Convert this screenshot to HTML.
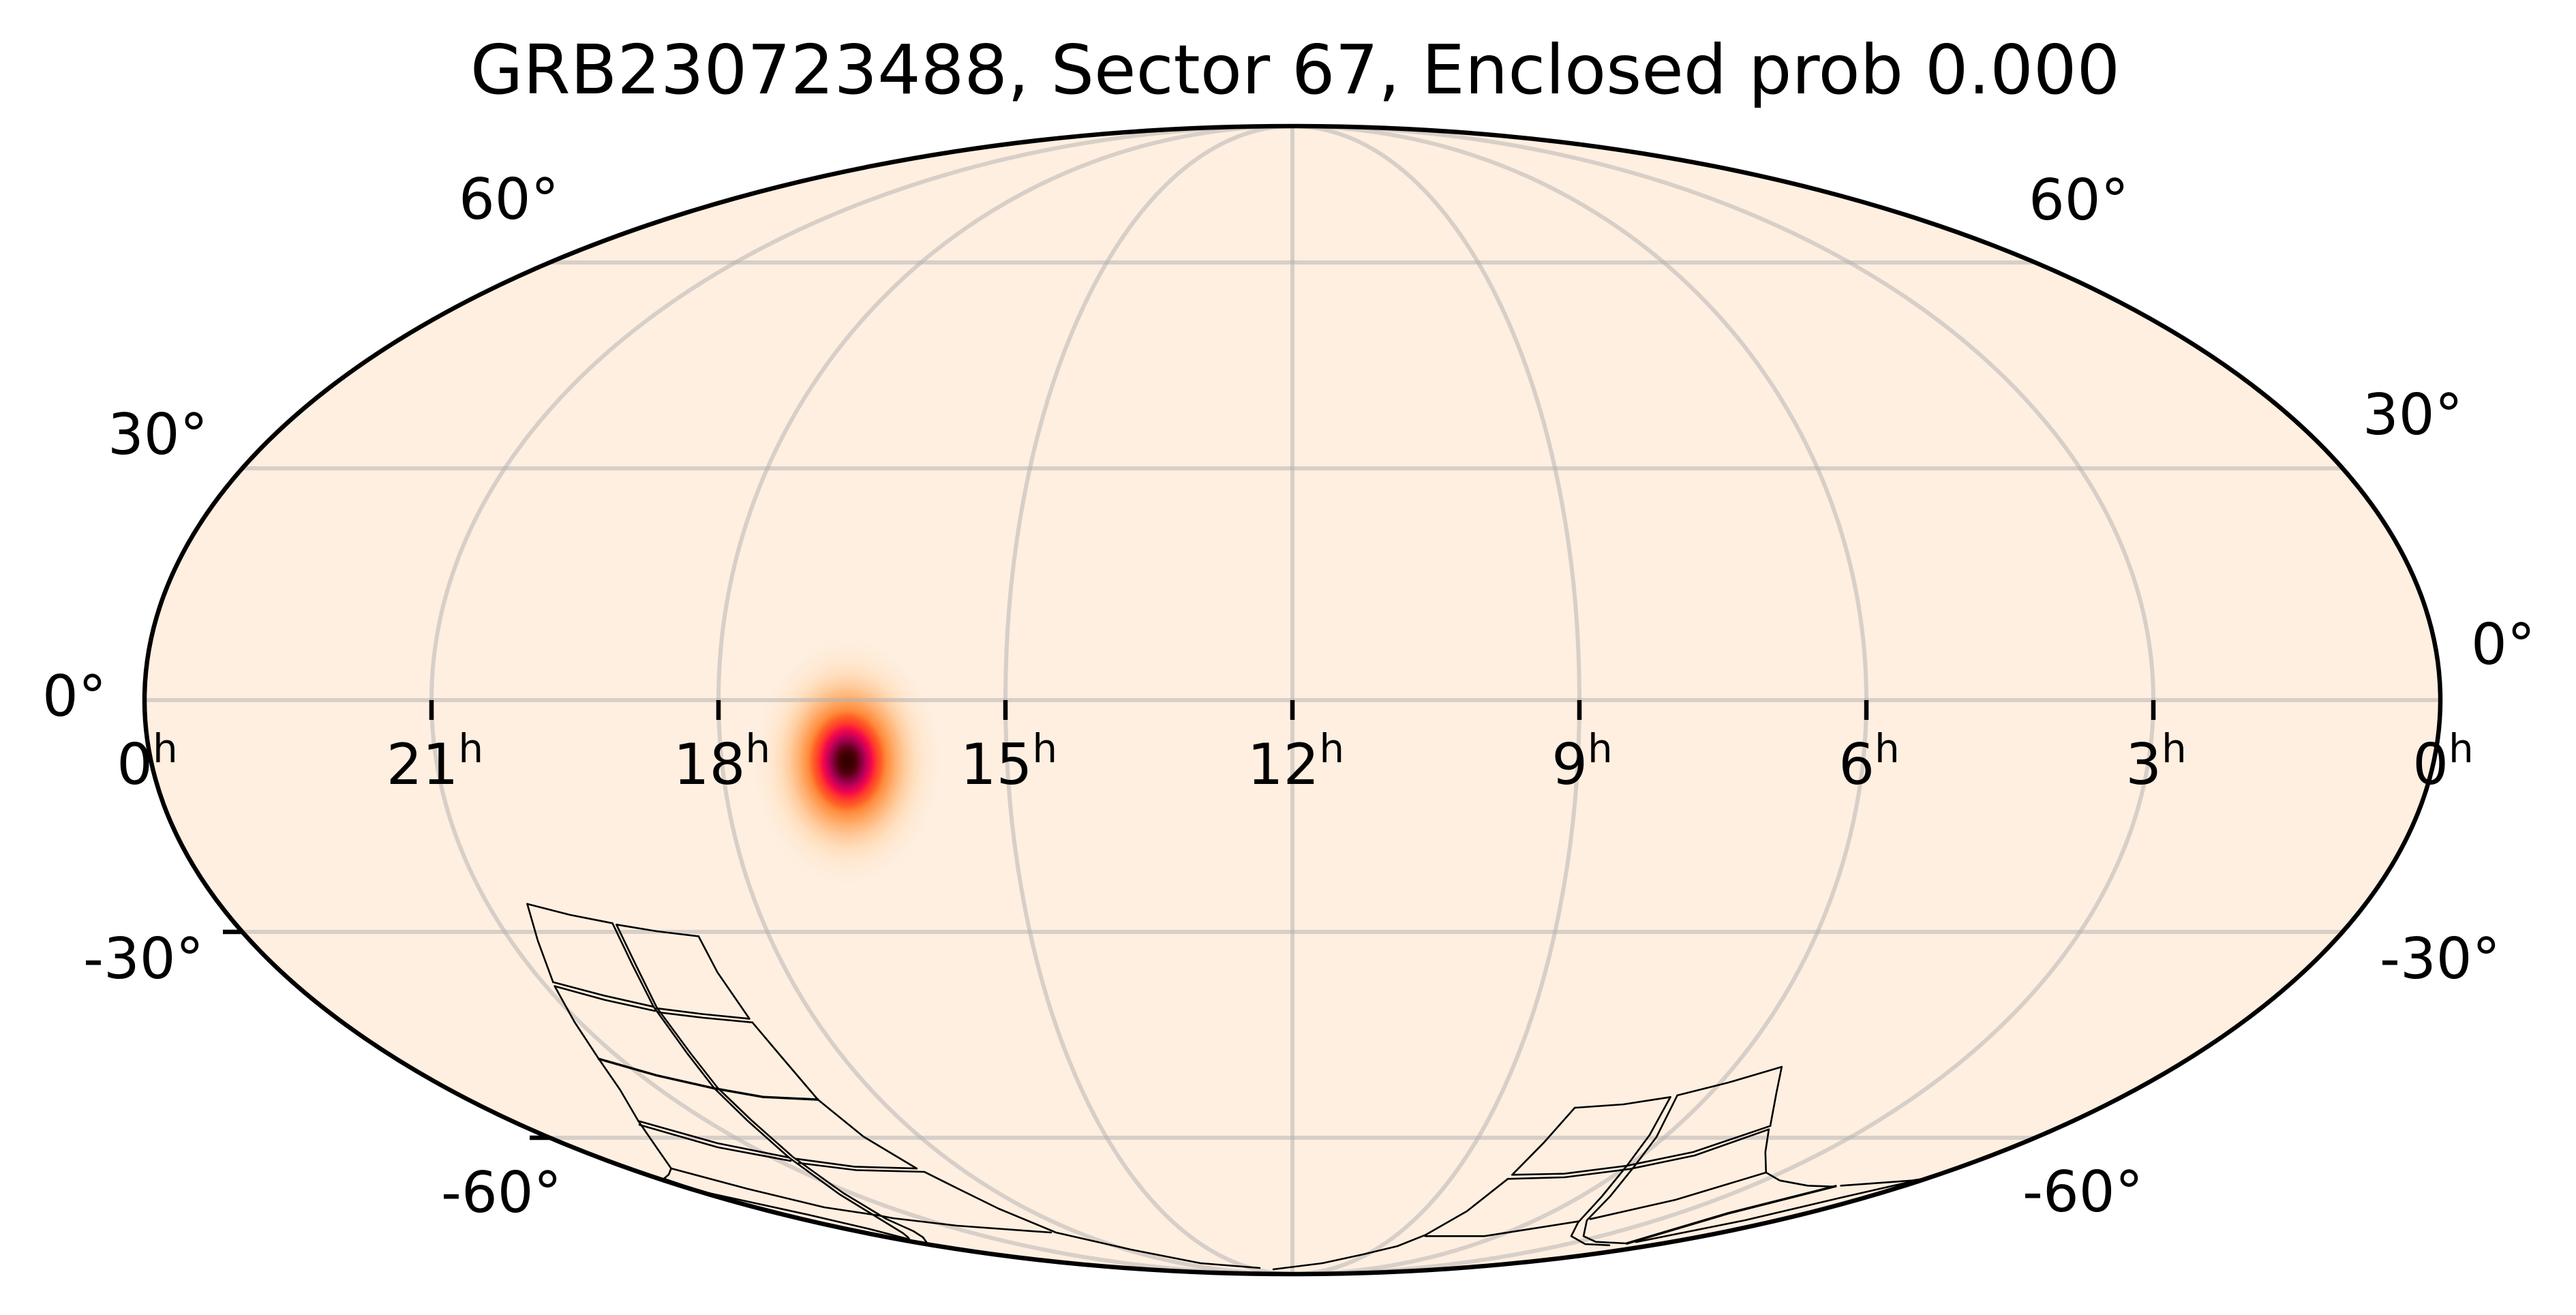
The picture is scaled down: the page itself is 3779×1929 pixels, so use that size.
<!DOCTYPE html>
<html>
<head>
<meta charset="utf-8">
<style>
  html,body{margin:0;padding:0;background:#ffffff;}
  svg{display:block;}
  text{font-family:"DejaVu Sans","Liberation Sans",sans-serif;fill:#000;}
</style>
</head>
<body>
<svg width="3779" height="1929" viewBox="0 0 3779 1929" xmlns="http://www.w3.org/2000/svg">
  <defs>
    <clipPath id="sky">
      <ellipse cx="1896" cy="1027" rx="1684" ry="842"/>
    </clipPath>
    <radialGradient id="blob" cx="0.5" cy="0.5" r="0.5">
      <stop offset="0" stop-color="#300000"/>
      <stop offset="0.05" stop-color="#3a0000"/>
      <stop offset="0.1" stop-color="#560010"/>
      <stop offset="0.15" stop-color="#8a0040"/>
      <stop offset="0.2" stop-color="#c4005a"/>
      <stop offset="0.25" stop-color="#f5084a"/>
      <stop offset="0.3" stop-color="#ff3a2c"/>
      <stop offset="0.35" stop-color="#ff5e26"/>
      <stop offset="0.4" stop-color="#ff8a3a"/>
      <stop offset="0.5" stop-color="#ffb070"/>
      <stop offset="0.6" stop-color="#ffcda0"/>
      <stop offset="0.7" stop-color="#ffe0c0"/>
      <stop offset="0.8" stop-color="#ffe9d3"/>
      <stop offset="0.9" stop-color="#feeddc"/>
      <stop offset="1" stop-color="#feefe0" stop-opacity="0"/>
    </radialGradient>
  </defs>

  <!-- Title -->
  <text x="1900" y="137" font-size="100" text-anchor="middle">GRB230723488, Sector 67, Enclosed prob 0.000</text>

  <!-- Sky background -->
  <ellipse cx="1896" cy="1027" rx="1684" ry="842" fill="#feefe0"/>

  <!-- Probability blob -->
  <g clip-path="url(#sky)">
    <ellipse cx="1243" cy="1117" rx="142" ry="186" fill="url(#blob)"/>
  </g>

  <!-- Grid -->
  <g clip-path="url(#sky)" stroke="#b0b0b0" stroke-opacity="0.5" stroke-width="6" fill="none">
    <line x1="200" y1="385" x2="3600" y2="385"/>
    <line x1="200" y1="687" x2="3600" y2="687"/>
    <line x1="200" y1="1027" x2="3600" y2="1027"/>
    <line x1="200" y1="1367" x2="3600" y2="1367"/>
    <line x1="200" y1="1669" x2="3600" y2="1669"/>
    <line x1="1896" y1="180" x2="1896" y2="1875"/>
    <ellipse cx="1896" cy="1027" rx="421" ry="842"/>
    <ellipse cx="1896" cy="1027" rx="842" ry="842"/>
    <ellipse cx="1896" cy="1027" rx="1263" ry="842"/>
  </g>

  <!-- TESS footprint -->
  <g clip-path="url(#sky)" stroke="#000" stroke-width="2.6" fill="none" stroke-linejoin="round" stroke-linecap="round">
    <!-- left group -->
    <polyline points="773.5,1326 789,1380 811.4,1440.8"/>
    <polyline points="813.7,1446.6 842.7,1499 878.4,1553.3 909.6,1598.5 936.4,1644.4 963,1683 984.6,1714 981,1723 974,1729"/>
    <polyline points="773.5,1326 836,1342 898.5,1354.3"/>
    <polyline points="904.3,1356.3 963,1366 1024.8,1373.5"/>
    <polyline points="898.5,1354.3 927.5,1414.8 958.8,1476.8 1007.9,1544.9 1048,1596.6 1097.1,1644.4 1157.4,1698 1231.1,1751.6 1293.6,1789.9 1324.8,1809 1332,1815 1334,1818"/>
    <polyline points="904.3,1356.3 933,1416 963.5,1478 1013,1545 1053,1596 1102,1643 1163,1697 1237,1750 1300,1788 1340,1806 1354,1815 1359,1822"/>
    <polyline points="1024.8,1373.5 1052.5,1426.3 1099.4,1494.4"/>
    <polyline points="1103.8,1499.8 1141.8,1544.9 1199.8,1613 1266.8,1667.4 1344.9,1714.1"/>
    <polyline points="1356.1,1719.1 1404,1743 1465,1773 1542,1805 1549,1808 1659,1833 1761,1853 1848,1860"/>
    <polyline points="811.4,1440.8 887.3,1460.7 958.8,1476.8"/>
    <polyline points="963.2,1479.1 1030.2,1487.5 1099.4,1494.4"/>
    <polyline points="813.7,1446.6 888,1467 961,1483"/>
    <polyline points="966,1485 1032,1493 1103.8,1499.8"/>
    <polyline points="878.4,1553.3 963.2,1577.5 1048,1596.6 1119.5,1609.2 1199.8,1613" stroke-width="3.4"/>
    <polyline points="936.4,1644.4 1052.5,1677 1157.4,1698"/>
    <polyline points="1168.6,1699.9 1253.4,1711.4 1344.9,1714.1"/>
    <polyline points="938,1650 1053,1683 1160,1703"/>
    <polyline points="1172,1706 1256,1716.5 1356,1719"/>
    <polyline points="984.6,1714 1097,1744 1209,1771 1289,1783 1310,1787 1404,1798 1542,1808"/>
    <polyline points="974,1729 1030,1748 1186,1782 1276,1803 1334,1818"/>
    <!-- right group -->
    <polyline points="2310.2,1625 2381.6,1620 2450.5,1609.3"/>
    <polyline points="2460.7,1606.7 2534.7,1588.3 2613.8,1565"/>
    <polyline points="2613.8,1565 2606,1603.3 2597,1651.7"/>
    <polyline points="2594.9,1656.7 2589.8,1690 2590.8,1720 2611,1731.7 2652,1739.3 2690,1740.7"/>
    <polyline points="2700.5,1739.3 2805,1731.7 2822,1729"/>
    <polyline points="2310.2,1625 2264.3,1676.7 2218.4,1723.3"/>
    <polyline points="2212,1729.3 2152,1776.7 2090.8,1811.7 2050,1828 2000,1840 1940,1853 1868,1862"/>
    <polyline points="2450.5,1609.3 2420,1665 2386.7,1710 2350,1755 2315,1793.3 2305,1813.3 2325.5,1825 2361,1826.7"/>
    <polyline points="2460.7,1606.7 2430,1668 2397,1711.7 2362,1755 2328,1790 2323,1813.3 2341,1821.7 2386.7,1824"/>
    <polyline points="2218.4,1723.3 2295,1721.7 2386.7,1710 2483.7,1690 2597,1651.7"/>
    <polyline points="2212,1729.3 2295,1727 2390,1715 2486,1695 2594.9,1656.7"/>
    <polyline points="2090.8,1813.3 2177.6,1813.3 2315.3,1791.7"/>
    <polyline points="2333,1788.3 2458,1760 2590.8,1720"/>
    <polyline points="2386.7,1824 2534.7,1780 2692.9,1740" stroke-width="3.6"/>
    <polyline points="2400,1822 2560,1790 2700,1757 2805,1733"/>
  </g>

  <!-- Outline -->
  <ellipse cx="1896" cy="1027" rx="1684" ry="842" fill="none" stroke="#000" stroke-width="6.5"/>

  <!-- Ticks -->
  <g stroke="#000" stroke-width="6.5">
    <line x1="633" y1="1027" x2="633" y2="1056"/>
    <line x1="1054" y1="1027" x2="1054" y2="1056"/>
    <line x1="1475" y1="1027" x2="1475" y2="1056"/>
    <line x1="1896" y1="1027" x2="1896" y2="1056"/>
    <line x1="2317" y1="1027" x2="2317" y2="1056"/>
    <line x1="2738" y1="1027" x2="2738" y2="1056"/>
    <line x1="3159" y1="1027" x2="3159" y2="1056"/>
    <line x1="327" y1="1367" x2="356" y2="1367"/>
    <line x1="777" y1="1669" x2="806" y2="1669"/>
  </g>

  <!-- RA labels -->
  <g font-size="83" text-anchor="middle">
    <text x="216" y="1150">0<tspan dy="-32" font-size="58">h</tspan></text>
    <text x="638" y="1150">21<tspan dy="-32" font-size="58">h</tspan></text>
    <text x="1059" y="1150">18<tspan dy="-32" font-size="58">h</tspan></text>
    <text x="1480" y="1150">15<tspan dy="-32" font-size="58">h</tspan></text>
    <text x="1901" y="1150">12<tspan dy="-32" font-size="58">h</tspan></text>
    <text x="2321" y="1150">9<tspan dy="-32" font-size="58">h</tspan></text>
    <text x="2742" y="1150">6<tspan dy="-32" font-size="58">h</tspan></text>
    <text x="3163" y="1150">3<tspan dy="-32" font-size="58">h</tspan></text>
    <text x="3584" y="1150">0<tspan dy="-32" font-size="58">h</tspan></text>
  </g>

  <!-- Dec labels -->
  <g font-size="83">
    <text x="673" y="321">60°</text>
    <text x="158" y="666">30°</text>
    <text x="62" y="1050">0°</text>
    <text x="122" y="1435">-30°</text>
    <text x="647" y="1778">-60°</text>

    <text x="2976" y="322">60°</text>
    <text x="3466" y="637">30°</text>
    <text x="3625" y="974">0°</text>
    <text x="3491" y="1435">-30°</text>
    <text x="2967" y="1777">-60°</text>
  </g>
</svg>
</body>
</html>
